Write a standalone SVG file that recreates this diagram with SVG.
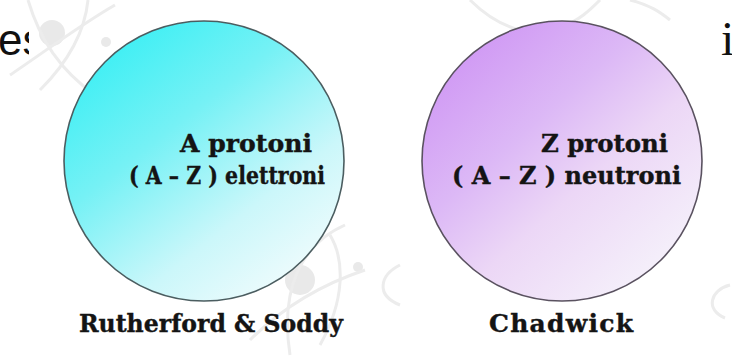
<svg xmlns="http://www.w3.org/2000/svg" width="732" height="360" viewBox="0 0 732 360">
  <style>
    .lbl { font-family: "DejaVu Serif", "Liberation Serif", serif; font-weight: bold; font-size: 25px; fill: #141414; stroke: #141414; stroke-width: 0.4; }
    .deco { fill: none; stroke: #ececec; stroke-width: 3; }
    .decofill { fill: #e9e9e9; }
    .node { stroke-width: 1.6; }
  </style>
  <defs>
    <linearGradient id="gCyan" x1="0.1" y1="0.1" x2="0.8" y2="1">
      <stop offset="0" stop-color="#3aeff4"/>
      <stop offset="0.35" stop-color="#76f1f5"/>
      <stop offset="0.7" stop-color="#cbf7fa"/>
      <stop offset="1" stop-color="#f3fcfd"/>
    </linearGradient>
    <linearGradient id="gPurple" x1="0.1" y1="0.1" x2="0.85" y2="0.95">
      <stop offset="0" stop-color="#cf96f4"/>
      <stop offset="0.35" stop-color="#dcb8f6"/>
      <stop offset="0.6" stop-color="#ecd7f6"/>
      <stop offset="1" stop-color="#f6f3fb"/>
    </linearGradient>
    <clipPath id="clipLeft">
      <rect x="0" y="0" width="29" height="80"/>
    </clipPath>
  </defs>

  <rect x="0" y="0" width="732" height="360" fill="#ffffff"/>

  <g id="background">
    <circle class="decofill" cx="52" cy="33" r="13"/>
    <circle class="decofill" cx="106" cy="42" r="5"/>
    <path class="deco" d="M28,0 C40,40 60,70 95,95"/>
    <path class="deco" d="M10,75 C40,55 80,25 115,5"/>
    <path class="deco" d="M88,0 C85,30 70,60 40,90"/>
    <circle class="decofill" cx="300" cy="280" r="15"/>
    <circle class="decofill" cx="358" cy="267" r="5"/>
    <path class="deco" d="M250,340 C280,310 320,285 365,270"/>
    <path class="deco" d="M330,235 C345,260 345,300 320,345"/>
    <path class="deco" d="M345,225 C300,245 280,290 290,355"/>
    <path class="deco" d="M400,265 C380,275 375,295 400,305"/>
    <path class="deco" d="M730,285 C710,290 705,310 725,318"/>
    <path class="deco" d="M470,0 C485,15 500,25 520,30"/>
    <path class="deco" d="M600,0 C590,10 580,20 560,28"/>
    <path class="deco" d="M630,0 C650,5 660,12 670,20"/>
  </g>

  <g id="edge-text">
    <text x="-2" y="55" clip-path="url(#clipLeft)" font-family="Liberation Sans, Arial, sans-serif" font-size="44" fill="#111">es</text>
    <text x="721" y="55" font-family="Liberation Serif, serif" font-size="48" fill="#111">i</text>
  </g>

  <g id="node-rutherford">
    <circle class="node" cx="204" cy="161" r="140" fill="url(#gCyan)" stroke="#4b5d60"/>
    <text class="lbl" x="180" y="152" textLength="132" lengthAdjust="spacingAndGlyphs">A protoni</text>
    <text class="lbl" x="129" y="184" textLength="196" lengthAdjust="spacingAndGlyphs">( A – Z ) elettroni</text>
    <text class="lbl" x="79" y="332" textLength="264" lengthAdjust="spacingAndGlyphs">Rutherford &amp; Soddy</text>
  </g>

  <g id="node-chadwick">
    <circle class="node" cx="562" cy="161" r="140" fill="url(#gPurple)" stroke="#5a5260"/>
    <text class="lbl" x="541" y="152" textLength="127" lengthAdjust="spacingAndGlyphs">Z protoni</text>
    <text class="lbl" x="452" y="184" textLength="229" lengthAdjust="spacingAndGlyphs">( A – Z ) neutroni</text>
    <text class="lbl" x="489" y="332" textLength="144" lengthAdjust="spacing">Chadwick</text>
  </g>

  <g id="connectors"/>
</svg>
